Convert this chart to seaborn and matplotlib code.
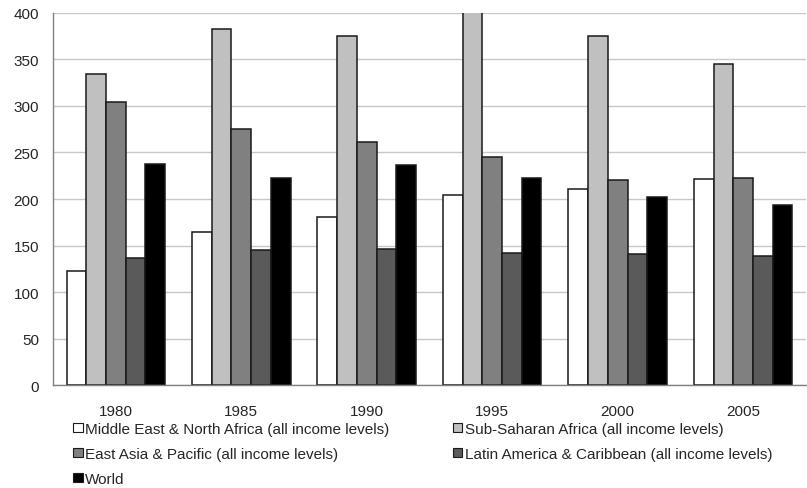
import matplotlib.pyplot as plt
import seaborn as sns
import pandas as pd
from matplotlib.patches import Patch

years = ["1980", "1985", "1990", "1995", "2000", "2005"]
regions = [
    "Middle East & North Africa (all income levels)",
    "Sub-Saharan Africa (all income levels)",
    "East Asia & Pacific (all income levels)",
    "Latin America & Caribbean (all income levels)",
    "World",
]
mena = [123, 165, 181, 204, 211, 221]
ssa = [334, 383, 375, 402, 375, 345]
eap = [304, 275, 261, 245, 220, 223]
lac = [137, 145, 146, 142, 141, 139]
world = [238, 223, 237, 223, 202, 194]
colors = ["#ffffff", "#c0c0c0", "#808080", "#5a5a5a", "#000000"]

rows = []
for reg, vals in zip(regions, [mena, ssa, eap, lac, world]):
    for y, v in zip(years, vals):
        rows.append({"Year": y, "Region": reg, "Value": v})
df = pd.DataFrame(rows)

sns.set_style("white")
plt.rcParams["font.family"] = ["Liberation Sans", "DejaVu Sans"]

fig = plt.figure(figsize=(8.07, 4.89), dpi=100)
ax = fig.add_axes([0.0657, 0.2106, 0.933, 0.7608])

sns.barplot(data=df, x="Year", y="Value", hue="Region", hue_order=regions,
            palette=colors, edgecolor="#1a1a1a", linewidth=1.1,
            width=0.785, gap=0, ax=ax, legend=False)

ax.set_ylim(0, 400)
ax.set_xlim(-0.5, 5.5)
ax.set_yticks(range(0, 401, 50))
ax.yaxis.grid(True, color="#c8c8c8", linewidth=1)
ax.set_axisbelow(True)
ax.set_xlabel("")
ax.set_ylabel("")
for s in ["top", "right"]:
    ax.spines[s].set_visible(False)
for s in ["left", "bottom"]:
    ax.spines[s].set_color("#808080")
    ax.spines[s].set_linewidth(1)

# ticks between categories on x
ax.set_xticks([i - 0.5 for i in range(7)], minor=True)
ax.tick_params(axis="x", which="major", length=0, pad=13.5, labelsize=11)
ax.tick_params(axis="x", which="minor", length=4, color="#808080", direction="out")
ax.tick_params(axis="y", length=4, color="#808080", direction="out", labelsize=11, pad=6)

handles = [Patch(facecolor=c, edgecolor="#1a1a1a", linewidth=0.8) for c in colors]
order = [0, 2, 4, 1, 3]
fig.legend([handles[i] for i in order], [regions[i] for i in order],
           loc="upper left", bbox_to_anchor=(0.091, 0.135), ncol=2,
           frameon=False, fontsize=11, handlelength=0.6, handleheight=0.6,
           handletextpad=0.15, columnspacing=4.2, labelspacing=0.72,
           borderaxespad=0, borderpad=0)

fig.savefig("out.png", dpi=100)
